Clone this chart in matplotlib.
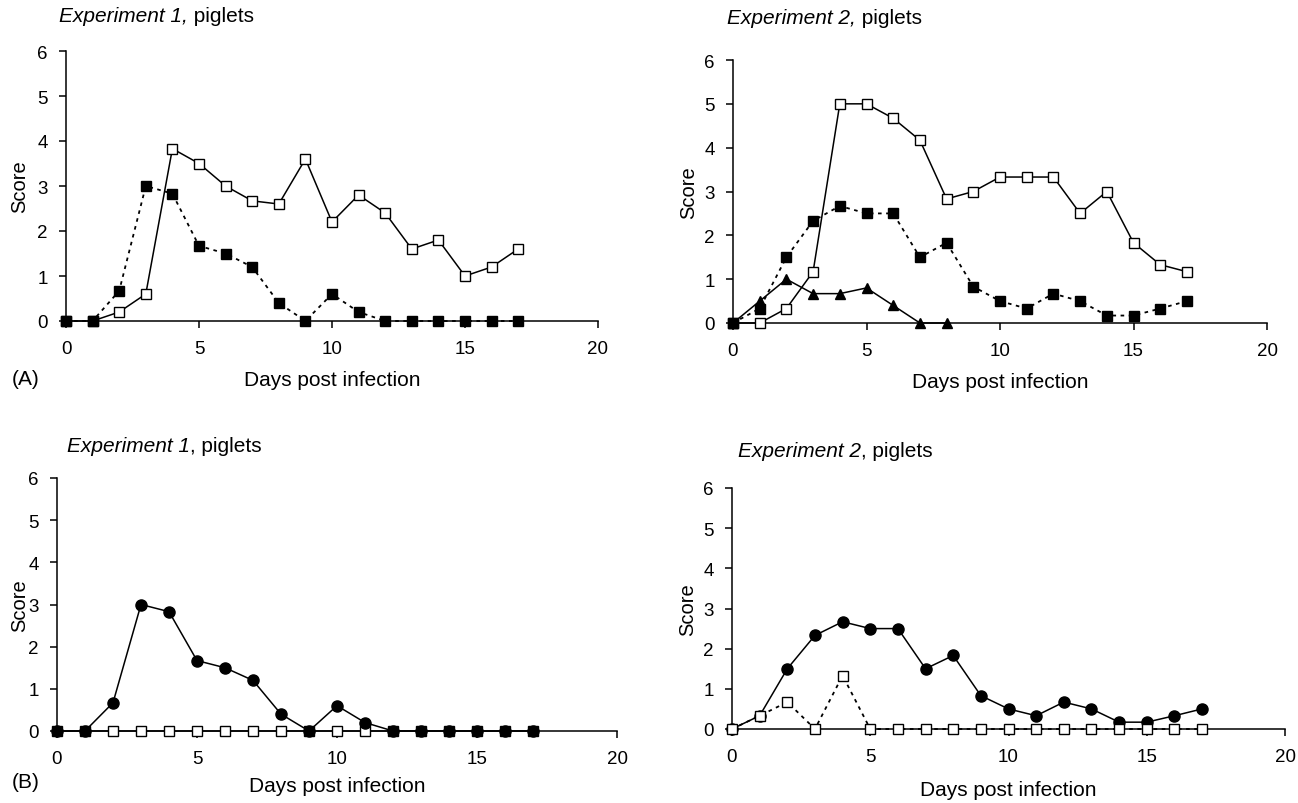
import numpy as np
import matplotlib.pyplot as plt

plt.rcParams['font.family'] = ['Liberation Sans', 'DejaVu Sans']

days = np.arange(0, 18)

# (A) experiment 1
a1_open = [0, 0, 0.2, 0.6, 3.83, 3.5, 3.0, 2.67, 2.6, 3.6, 2.2, 2.8, 2.4, 1.6, 1.8, 1.0, 1.2, 1.6]
a1_filled = [0, 0, 0.67, 3.0, 2.83, 1.67, 1.5, 1.2, 0.4, 0, 0.6, 0.2, 0, 0, 0, 0, 0, 0]

# (A) experiment 2
a2_open = [0, 0, 0.33, 1.17, 5.0, 5.0, 4.67, 4.17, 2.83, 3.0, 3.33, 3.33, 3.33, 2.5, 3.0, 1.83, 1.33, 1.17]
a2_filled = [0, 0.33, 1.5, 2.33, 2.67, 2.5, 2.5, 1.5, 1.83, 0.83, 0.5, 0.33, 0.67, 0.5, 0.17, 0.17, 0.33, 0.5]
tri_days = np.arange(0, 9)
a2_tri = [0, 0.5, 1.0, 0.67, 0.67, 0.8, 0.4, 0, 0]

# (B) experiment 1
b1_circle = [0, 0, 0.67, 3.0, 2.83, 1.67, 1.5, 1.2, 0.4, 0, 0.6, 0.2, 0, 0, 0, 0, 0, 0]
b1_open = [0] * 18

# (B) experiment 2
b2_circle = [0, 0.33, 1.5, 2.33, 2.67, 2.5, 2.5, 1.5, 1.83, 0.83, 0.5, 0.33, 0.67, 0.5, 0.17, 0.17, 0.33, 0.5]
b2_open = [0, 0.33, 0.67, 0, 1.33, 0, 0, 0, 0, 0, 0, 0, 0, 0, 0, 0, 0, 0]

W, H = 1298, 804
fig = plt.figure(figsize=(W / 100, H / 100), dpi=100)

dot = (0, (2, 2.5))


def make_ax(l, r, t, b):
    return fig.add_axes([l / W, (H - b) / H, (r - l) / W, (b - t) / H])


def style(ax, exp_no, bottom_title, title_xy, ylab_x, xlab_y):
    ax.set_xlim(0, 20)
    ax.set_ylim(0, 6)
    ax.set_xticks([0, 5, 10, 15, 20])
    ax.set_yticks(range(7))
    for s in ['top', 'right']:
        ax.spines[s].set_visible(False)
    for s in ['left', 'bottom']:
        ax.spines[s].set_linewidth(1.1)
    ax.tick_params(direction='out', length=5, width=1.1, labelsize=13.5)
    ax.tick_params(axis='x', pad=9)
    ax.tick_params(axis='y', pad=8)
    ax.set_xlabel('Days post infection', fontsize=15, va='center')
    ax.set_ylabel('Score', fontsize=14.5, va='center')
    ax.xaxis.set_label_coords(0.5, xlab_y)
    ax.yaxis.set_label_coords(ylab_x, 0.5)
    # title: italic part then normal part
    tx, ty = title_xy
    t1 = fig.text(tx / W, 1 - ty / H, 'Experiment %d' % exp_no + ('' if bottom_title else ','),
                  fontsize=15, style='italic', va='center', ha='left')
    ax.annotate(', piglets' if bottom_title else ' piglets', xy=(1, 0), xycoords=t1,
                fontsize=15, va='bottom', ha='left')


sq_open = dict(marker='s', markersize=7, markerfacecolor='white', markeredgecolor='black',
               markeredgewidth=1.0, color='black')
sq_fill = dict(marker='s', markersize=7, markerfacecolor='black', markeredgecolor='black',
               color='black')

# top-left
ax1 = make_ax(66, 598, 52, 322)
ax1.plot(days, a1_open, linestyle='-', linewidth=1.1, clip_on=False, zorder=3, **sq_open)
ax1.plot(days, a1_filled, linestyle=dot, linewidth=1.3, clip_on=False, zorder=4, **sq_fill)
style(ax1, 1, False, (59, 17), -0.0865, -0.215)

# top-right
ax2 = make_ax(733, 1267, 61, 324)
ax2.plot(days, a2_open, linestyle='-', linewidth=1.1, clip_on=False, zorder=3, **sq_open)
ax2.plot(days, a2_filled, linestyle=dot, linewidth=1.3, clip_on=False, zorder=4, **sq_fill)
ax2.plot(tri_days, a2_tri, linestyle='-', linewidth=1.1, marker='^', markersize=7.5,
         color='black', clip_on=False, zorder=5)
style(ax2, 2, False, (727, 18), -0.084, -0.224)

# bottom-left
ax3 = make_ax(57, 617, 479, 732)
ax3.plot(days, b1_open, linestyle='-', linewidth=1.1, clip_on=False, zorder=3, **sq_open)
ax3.plot(days, b1_circle, linestyle='-', linewidth=1.1, marker='o', markersize=8,
         color='black', clip_on=False, zorder=4)
style(ax3, 1, True, (67, 447), -0.066, -0.217)

# bottom-right
ax4 = make_ax(732, 1285, 489, 730)
ax4.plot(days, b2_circle, linestyle='-', linewidth=1.1, marker='o', markersize=8,
         color='black', clip_on=False, zorder=3)
ax4.plot(days, b2_open, linestyle=dot, linewidth=1.3, clip_on=False, zorder=4, **sq_open)
style(ax4, 2, True, (738, 452), -0.08, -0.249)

fig.text(12 / W, 1 - 380 / H, '(A)', fontsize=15, va='center', ha='left')
fig.text(12 / W, 1 - 783 / H, '(B)', fontsize=15, va='center', ha='left')

fig.savefig('out.png', dpi=100)
